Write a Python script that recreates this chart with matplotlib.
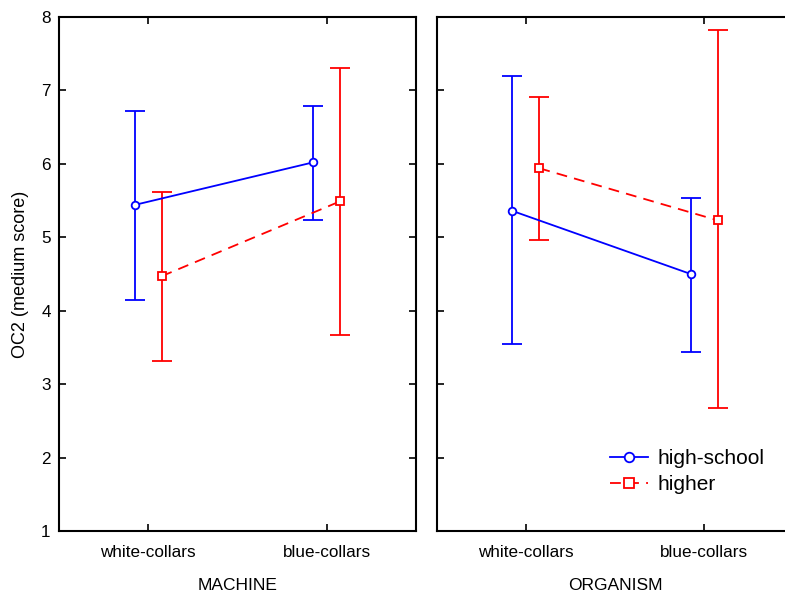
import numpy as np
import matplotlib
matplotlib.use('Agg')
import matplotlib.pyplot as plt

plt.rcParams['font.family'] = ['Liberation Sans', 'DejaVu Sans']

# 数据：两个面板 (MACHINE / ORGANISM)，两组 (high-school / higher)
categories = ['white-collars', 'blue-collars']
panels = ['MACHINE', 'ORGANISM']
groups = ['high-school', 'higher']

# 均值与误差上下限
machine_hs_mean = [5.44, 6.02]
machine_hs_low = [4.14, 5.24]
machine_hs_high = [6.72, 6.79]
machine_hi_mean = [4.47, 5.49]
machine_hi_low = [3.32, 3.67]
machine_hi_high = [5.62, 7.31]

organism_hs_mean = [5.36, 4.50]
organism_hs_low = [3.54, 3.44]
organism_hs_high = [7.19, 5.54]
organism_hi_mean = [5.94, 5.23]
organism_hi_low = [4.96, 2.67]
organism_hi_high = [6.91, 7.82]

data = {
    'MACHINE': [(machine_hs_mean, machine_hs_low, machine_hs_high),
                (machine_hi_mean, machine_hi_low, machine_hi_high)],
    'ORGANISM': [(organism_hs_mean, organism_hs_low, organism_hs_high),
                 (organism_hi_mean, organism_hi_low, organism_hi_high)],
}

colors = ['#0000ff', '#ff0000']
markers = ['o', 's']
linestyles = ['-', (0, (6, 4))]
offsets = [-0.077, 0.075]

W, H = 785, 596
fig = plt.figure(figsize=(W / 100, H / 100), dpi=100)
ax_left = fig.add_axes([59 / W, (H - 531) / H, 357 / W, 514 / H])
ax_right = fig.add_axes([436.7 / W, (H - 531) / H, 357 / W, 514 / H])

x = np.arange(len(categories))
for ax, panel in zip([ax_left, ax_right], panels):
    for i, (mean, low, high) in enumerate(data[panel]):
        mean = np.array(mean)
        err = [mean - np.array(low), np.array(high) - mean]
        xs = x + offsets[i]
        ax.errorbar(xs, mean, yerr=err, fmt='none', ecolor=colors[i],
                    elinewidth=1.3, capsize=7, capthick=1.3, zorder=2)
        ax.plot(xs, mean, color=colors[i], linestyle=linestyles[i], lw=1.3,
                marker=markers[i], markersize=5.5, markerfacecolor='white',
                markeredgecolor=colors[i], markeredgewidth=1.3,
                label=groups[i], zorder=3)
    ax.set_xlim(-0.5, 1.5)
    ax.set_ylim(1, 8)
    ax.set_xticks(x)
    ax.set_xticklabels(categories, fontsize=12.3)
    ax.set_yticks(np.arange(1, 9))
    ax.set_xlabel(panel, fontsize=12.5, labelpad=13)
    ax.tick_params(direction='in', length=5, width=1.2, top=True, right=True,
                   labelsize=12.3)
    ax.tick_params(axis='x', pad=10)
    ax.tick_params(axis='y', pad=6)
    for s in ax.spines.values():
        s.set_linewidth(1.5)

ax_left.set_ylabel('OC2 (medium score)', fontsize=13, labelpad=9)
ax_right.set_yticklabels([])

leg = ax_right.legend(loc='upper left',
                      bbox_to_anchor=((602 - 436.7) / 357, (531 - 441) / 514),
                      frameon=False, fontsize=15, handlelength=1.8,
                      handletextpad=0.45, labelspacing=0.32, borderaxespad=0,
                      markerscale=1.25)

fig.savefig('out.png', dpi=100)
